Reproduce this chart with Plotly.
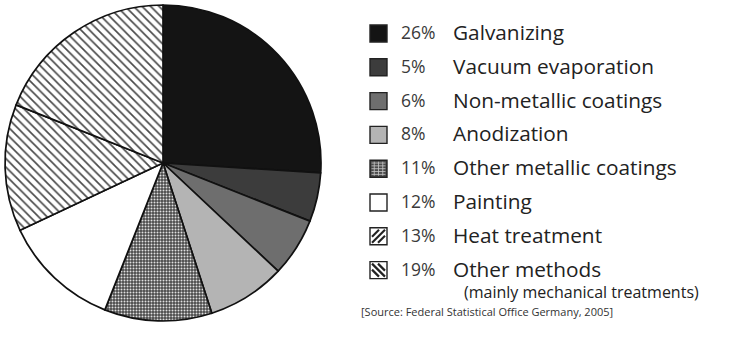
import plotly.graph_objects as go

# Surface treatment methods and their shares (%)
methods = [
    "Galvanizing",
    "Vacuum evaporation",
    "Non-metallic coatings",
    "Anodization",
    "Other metallic coatings",
    "Painting",
    "Heat treatment",
    "Other methods",
]
shares = [26, 5, 6, 8, 11, 12, 13, 19]
subnotes = ["", "", "", "", "", "", "", "(mainly mechanical treatments)"]
source_note = "[Source: Federal Statistical Office Germany, 2005]"

W, H = 740, 342

fills = ["#141414", "#3c3c3c", "#6e6e6e", "#b4b4b4", "#4a4a4a", "#ffffff", "#ffffff", "#ffffff"]
pat_shapes = ["", "", "", "", ".", "", "\\", "\\"]
pat_fg = ["#000", "#000", "#000", "#000", "#e0e0e0", "#000", "#4a4a4a", "#4a4a4a"]
pat_bg = list(fills)
pat_size = [8, 8, 8, 8, 3, 8, 6, 6]
pat_sol = [0.3, 0.3, 0.3, 0.3, 0.35, 0.3, 0.28, 0.28]

fig = go.Figure()
fig.add_trace(go.Pie(
    labels=methods,
    values=shares,
    sort=False,
    direction="clockwise",
    rotation=0,
    textinfo="none",
    hoverinfo="label+percent",
    showlegend=False,
    marker=dict(
        colors=fills,
        line=dict(color="#111111", width=1.7),
        pattern=dict(
            shape=pat_shapes,
            fgcolor=pat_fg,
            bgcolor=pat_bg,
            size=pat_size,
            solidity=pat_sol,
            fillmode="replace",
        ),
    ),
    domain=dict(x=[5 / W, 321 / W], y=[21 / H, 337 / H]),
))


def px(x):
    return x / W


def py(y):
    return 1 - y / H


shapes = []
annotations = []
row0, step = 33.5, 33.8
sq = 17
sx0 = 370
for i, (name, val, note) in enumerate(zip(methods, shares, subnotes)):
    yc = row0 + i * step
    y0, y1 = yc - sq / 2, yc + sq / 2
    x0, x1 = sx0, sx0 + sq
    shapes.append(dict(type="rect", xref="paper", yref="paper",
                       x0=px(x0), x1=px(x1), y0=py(y1), y1=py(y0),
                       fillcolor=fills[i], line=dict(color="#222", width=1.4)))
    if pat_shapes[i] == ".":
        # dotted texture inside the key square
        for k in range(1, 6):
            yy = y0 + k * sq / 6
            shapes.append(dict(type="line", xref="paper", yref="paper",
                               x0=px(x0 + 1.5), x1=px(x1 - 1.5), y0=py(yy), y1=py(yy),
                               line=dict(color="#c8c8c8", width=0.8)))
        for k in range(1, 4):
            xx = x0 + k * sq / 4
            shapes.append(dict(type="line", xref="paper", yref="paper",
                               x0=px(xx), x1=px(xx), y0=py(y0 + 1.5), y1=py(y1 - 1.5),
                               line=dict(color="#c8c8c8", width=0.8)))
    elif pat_shapes[i] == "\\":
        # hatch strokes inside the key square
        fwd = (name == "Heat treatment")
        for off in (-6, 0, 6):
            if fwd:
                a = (x0 + 2 + max(0, off), y1 - 2 - max(0, -off))
                b = (x1 - 2 - max(0, -off), y0 + 2 + max(0, off))
            else:
                a = (x0 + 2 + max(0, off), y0 + 2 + max(0, -off))
                b = (x1 - 2 - max(0, -off), y1 - 2 - max(0, off))
            shapes.append(dict(type="line", xref="paper", yref="paper",
                               x0=px(a[0]), y0=py(a[1]), x1=px(b[0]), y1=py(b[1]),
                               line=dict(color="#222", width=2.2)))
    ty = yc - 1.5
    annotations.append(dict(x=px(400), y=py(ty), xref="paper", yref="paper",
                            text=f"{val}%", showarrow=False, xanchor="left", yanchor="middle",
                            borderpad=0,
                            font=dict(family="Open Sans", size=17.5, color="#3a3a3a")))
    annotations.append(dict(x=px(452), y=py(ty), xref="paper", yref="paper",
                            text=name, showarrow=False, xanchor="left", yanchor="middle",
                            borderpad=0,
                            font=dict(family="Open Sans", size=20.8, color="#222")))
    if note:
        annotations.append(dict(x=px(463), y=py(ty + 23), xref="paper", yref="paper",
                                text=note, showarrow=False, xanchor="left", yanchor="middle",
                                borderpad=0,
                                font=dict(family="Open Sans", size=16, color="#222")))

annotations.append(dict(x=px(360), y=py(311.5), xref="paper", yref="paper",
                        text=source_note, showarrow=False, xanchor="left", yanchor="middle",
                        borderpad=0,
                        font=dict(family="Open Sans", size=11, color="#333")))

fig.update_layout(
    width=W, height=H,
    margin=dict(l=0, r=0, t=0, b=0),
    paper_bgcolor="white",
    plot_bgcolor="white",
    shapes=shapes,
    annotations=annotations,
)

fig.write_html("out.html")
